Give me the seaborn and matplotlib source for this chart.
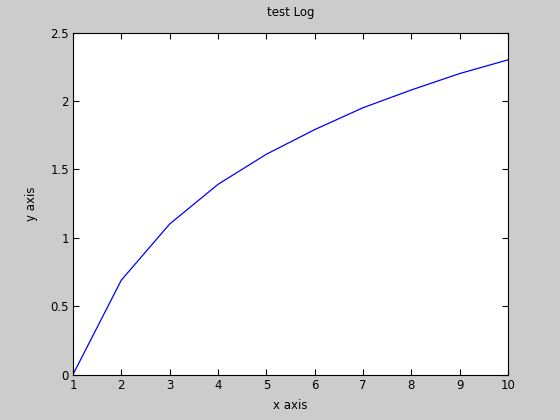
import numpy as np
import pandas as pd
import seaborn as sns
from matplotlib import pyplot as plt

x_values = [1, 2, 3, 4, 5, 6, 7, 8, 9, 10]
y_values = [0.0, 0.69, 1.10, 1.39, 1.61, 1.79, 1.95, 2.08, 2.20, 2.30]
x_ticks = [1, 2, 3, 4, 5, 6, 7, 8, 9, 10]
y_ticks = [0, 0.5, 1, 1.5, 2, 2.5]
y_tick_labels = ['0', '0.5', '1', '1.5', '2', '2.5']

df = pd.DataFrame({'x': x_values, 'y': y_values})

sns.set_style('ticks')
plt.rcParams['font.family'] = ['DejaVu Sans']

fig = plt.figure(figsize=(5.6, 4.2), dpi=100, facecolor='#cccccc')
ax = fig.add_axes([73 / 560, 1 - 374.5 / 420, (508 - 73) / 560, (374.5 - 32.5) / 420])
ax.set_facecolor('white')

sns.lineplot(data=df, x='x', y='y', ax=ax, color='blue', linewidth=0.9)

ax.set_xlim(1, 10)
ax.set_ylim(0, 2.5)
ax.set_xticks(x_ticks)
ax.set_yticks(y_ticks)
ax.set_yticklabels(y_tick_labels)
ax.tick_params(direction='in', top=True, right=True, length=4, width=0.8,
               labelsize=8.5, colors='black', pad=3)
for s in ax.spines.values():
    s.set_visible(True)
    s.set_linewidth(0.8)
    s.set_color('black')

ax.set_title('test Log', fontsize=8.5, pad=12, color='black')
ax.set_xlabel('x axis', fontsize=8.5, labelpad=5, color='black')
ax.set_ylabel('y axis', fontsize=8.5, labelpad=9, color='black')

fig.savefig('out.png', dpi=100, facecolor=fig.get_facecolor())
